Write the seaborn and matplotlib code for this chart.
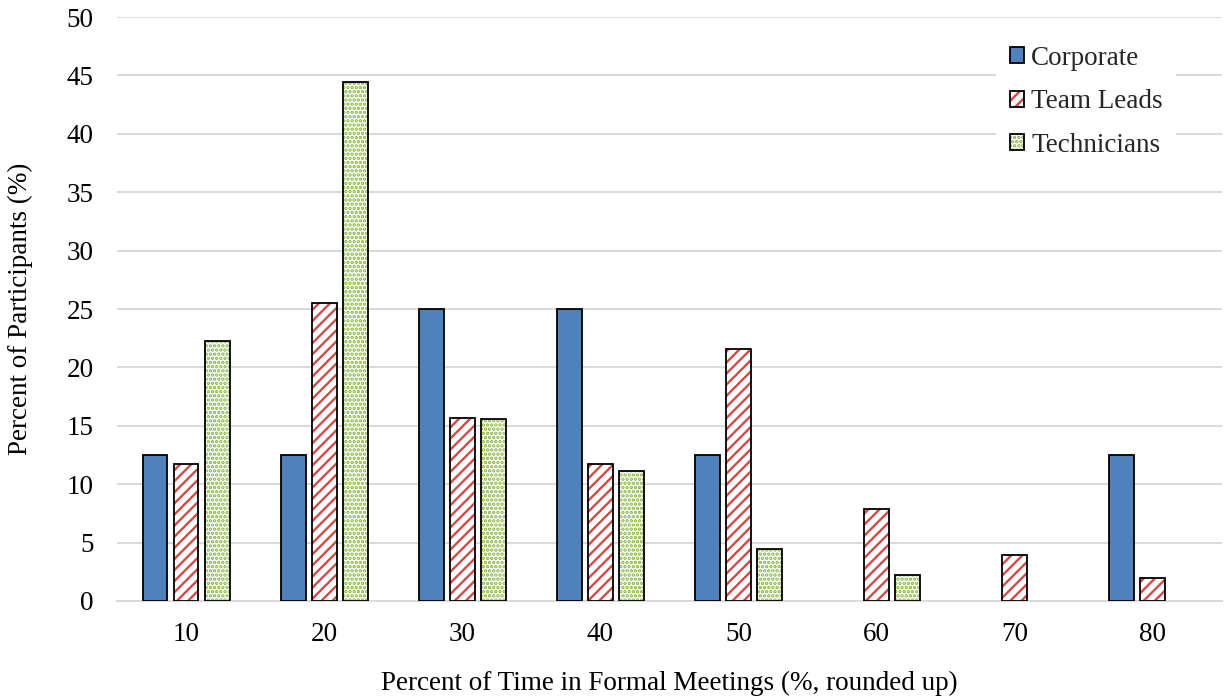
import matplotlib
matplotlib.use("Agg")
import matplotlib.pyplot as plt
import matplotlib.colors as mcolors
import seaborn as sns
import pandas as pd

categories = ["10", "20", "30", "40", "50", "60", "70", "80"]
corporate = [12.5, 12.5, 25.0, 25.0, 12.5, 0.0, 0.0, 12.5]
team_leads = [11.76, 25.49, 15.69, 11.76, 21.57, 7.84, 3.92, 1.96]
technicians = [22.22, 44.44, 15.56, 11.11, 4.44, 2.22, 0.0, 0.0]
series_names = ["Corporate", "Team Leads", "Technicians"]
y_ticks = [0, 5, 10, 15, 20, 25, 30, 35, 40, 45, 50]

fill_colors = ["#4F81BD", "#FFFFFF", "#FFFFFF"]
hatch_colors = [None, "#D04A47", "#86B33C"]
hatches = [None, "///", "...."]

rows = []
for name, vals in zip(series_names, [corporate, team_leads, technicians]):
    for c, v in zip(categories, vals):
        rows.append({"cat": c, "series": name, "value": v})
df = pd.DataFrame(rows)

sns.set_theme(style="white")
plt.rcParams["font.family"] = ["Liberation Serif", "DejaVu Serif"]
plt.rcParams["hatch.linewidth"] = 1.7

FS = 19.5

fig = plt.figure(figsize=(12.25, 6.98), dpi=100)
ax = fig.add_axes([0.0955, 0.139, 0.902, 0.8366])

sns.barplot(data=df, x="cat", y="value", hue="series", order=categories,
            hue_order=series_names, palette=fill_colors, width=0.675, gap=0.2,
            edgecolor="black", linewidth=1.3, saturation=1, ax=ax, zorder=3)

for i, cont in enumerate(ax.containers):
    for p in cont.patches:
        p.set_facecolor(fill_colors[i])
        if hatches[i]:
            p.set_hatch(hatches[i])
            p.set_edgecolor("black")
            p._hatch_color = mcolors.to_rgba(hatch_colors[i])
        if p.get_height() == 0:
            p.set_visible(False)

ax.set_ylim(0, 50)
ax.set_xlim(-0.5, 7.5)
ax.set_yticks(y_ticks)
ax.yaxis.grid(True, color="#D9D9D9", linewidth=1.4, zorder=0)
ax.set_axisbelow(True)
for s in ["left", "right", "top"]:
    ax.spines[s].set_visible(False)
ax.spines["bottom"].set_color("#D9D9D9")
ax.spines["bottom"].set_linewidth(1.4)
ax.tick_params(axis="both", length=0, labelsize=FS, colors="black")
ax.tick_params(axis="y", pad=17)
ax.tick_params(axis="x", pad=15)
ax.set_xlabel("Percent of Time in Formal Meetings (%, rounded up)", fontsize=FS, labelpad=17.5, color="black")
ax.set_ylabel("Percent of Participants (%)", fontsize=FS, labelpad=24, color="black")

handles, labels = ax.get_legend_handles_labels()
for i, h in enumerate(handles):
    h.set_facecolor(fill_colors[i])
    h.set_edgecolor("black")
    if hatches[i]:
        h.set_hatch(hatches[i])
        h._hatch_color = mcolors.to_rgba(hatch_colors[i])
leg = ax.legend(handles, labels, loc="upper right", bbox_to_anchor=(0.971, 0.997),
                frameon=True, facecolor="white", edgecolor="none", framealpha=1,
                fontsize=FS, handlelength=0.55, handleheight=0.55, handletextpad=0.25,
                labelspacing=0.68, borderpad=0.5, fancybox=False)

fig.savefig("out.png", dpi=100)
